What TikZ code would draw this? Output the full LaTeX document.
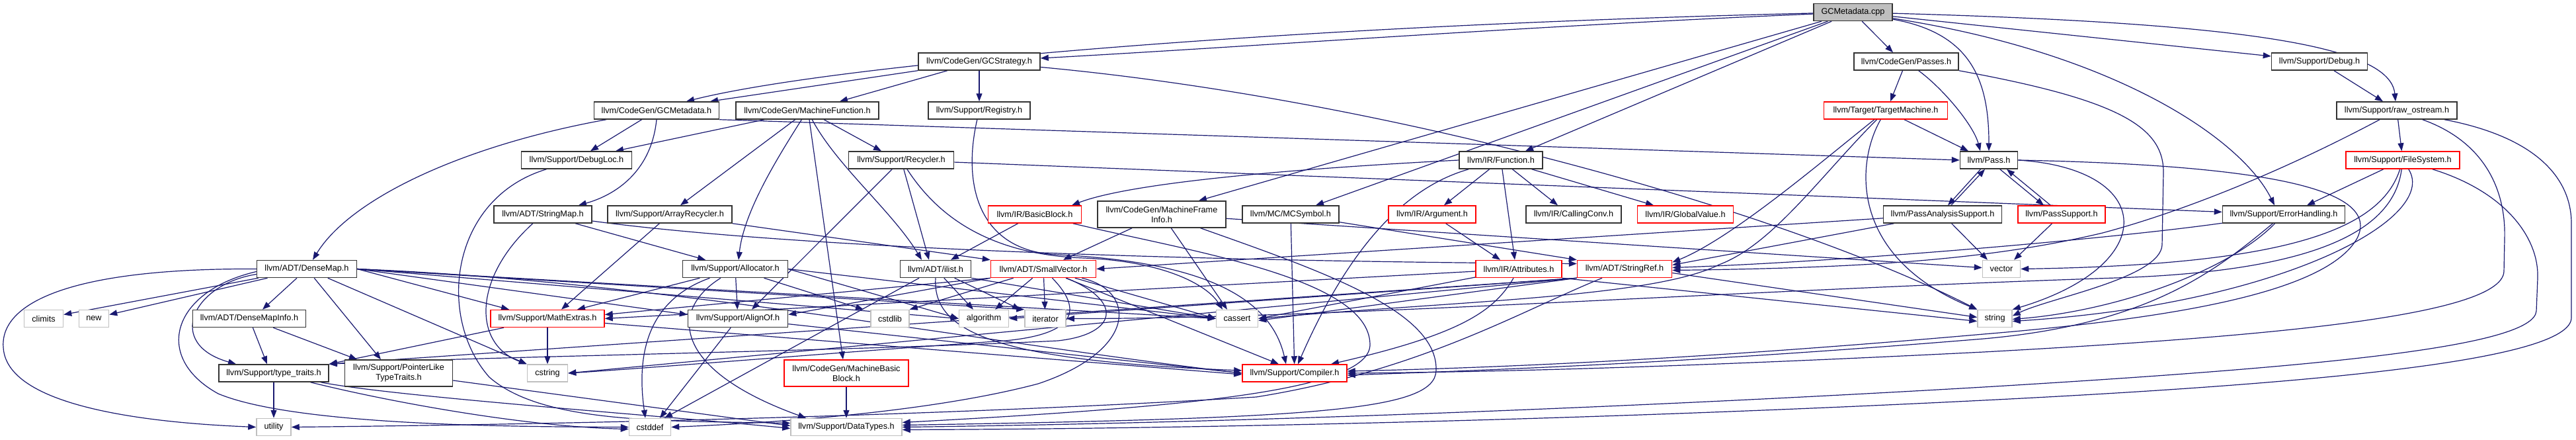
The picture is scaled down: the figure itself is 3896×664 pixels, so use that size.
\documentclass[tikz,border=0pt]{standalone}
\usepackage{fontspec}
\setmainfont{Liberation Sans}
\usetikzlibrary{arrows.meta}
\pgfdeclarelayer{bgl}
\pgfdeclarelayer{edl}
\pgfsetlayers{bgl,edl,main}
\definecolor{edgec}{HTML}{191970}
\definecolor{greyc}{HTML}{BFBFBF}
\newcommand{\dgfont}{\fontsize{12.7pt}{15pt}\selectfont}
\begin{document}
\begin{tikzpicture}[x=1pt,y=-1pt,
 nb/.style={rectangle, inner sep=0pt, minimum height=26pt, line width=1.5pt, font=\dgfont, align=center, fill=white, text=black},
 blk/.style={nb, draw=black!80},
 rd/.style={nb, draw=red},
 gr/.style={nb, draw=greyc},
 root/.style={nb, draw=black!80, fill=greyc},
 two/.style={minimum height=40pt},
 edg/.style={draw=edgec, line width=1.2pt, -{Triangle[length=12pt,width=9pt]}},
]
\useasboundingbox (0,0) rectangle (3896,664);
\begin{pgfonlayer}{bgl}
\fill[white] (0,0) rectangle (3896,664);
\end{pgfonlayer}
% row 0
\node[root, minimum width=119pt] (cpp) at (2802.5,18.5) {GCMetadata.cpp};
% row 1
\node[blk, minimum width=184pt] (gcs) at (1481,93) {llvm/CodeGen/GCStrategy.h};
\node[blk, minimum width=158pt] (passes) at (2883,93) {llvm/CodeGen/Passes.h};
\node[blk, minimum width=145pt] (debug) at (3508,93) {llvm/Support/Debug.h};
% row 2
\node[blk, minimum width=189pt] (gcmd) at (993,167) {llvm/CodeGen/GCMetadata.h};
\node[blk, minimum width=216pt] (mf) at (1221,167) {llvm/CodeGen/MachineFunction.h};
\node[blk, minimum width=154pt] (reg) at (1481,167) {llvm/Support/Registry.h};
\node[rd, minimum width=187pt] (tm) at (2852,167) {llvm/Target/TargetMachine.h};
\node[blk, minimum width=182pt] (raw) at (3625,167) {llvm/Support/raw\_ostream.h};
% row 3
\node[blk, minimum width=167pt] (dl) at (872,242) {llvm/Support/DebugLoc.h};
\node[blk, minimum width=159pt] (rec) at (1363,242) {llvm/Support/Recycler.h};
\node[blk, minimum width=126pt] (fn) at (2270,242) {llvm/IR/Function.h};
\node[blk, minimum width=87pt] (pass) at (3008,242) {llvm/Pass.h};
\node[rd, minimum width=172pt] (fs) at (3634,242) {llvm/Support/FileSystem.h};
% row 4
\node[blk, minimum width=148pt] (sm) at (821,324) {llvm/ADT/StringMap.h};
\node[blk, minimum width=188pt] (ar) at (1013,324) {llvm/Support/ArrayRecycler.h};
\node[rd, minimum width=141pt] (bb) at (1565,324) {llvm/IR/BasicBlock.h};
\node[blk, two, minimum width=194pt] (mfi) at (1757,324) {llvm/CodeGen/MachineFrame\\Info.h};
\node[blk, minimum width=146pt] (mcs) at (1952,324) {llvm/MC/MCSymbol.h};
\node[rd, minimum width=132pt] (arg) at (2166,324) {llvm/IR/Argument.h};
\node[blk, minimum width=144pt] (cc) at (2380,324) {llvm/IR/CallingConv.h};
\node[rd, minimum width=145pt] (gv) at (2549,324) {llvm/IR/GlobalValue.h};
\node[blk, minimum width=179pt] (pas) at (2938,324) {llvm/PassAnalysisSupport.h};
\node[rd, minimum width=132pt] (ps) at (3118,324) {llvm/PassSupport.h};
\node[blk, minimum width=185pt] (eh) at (3454,324) {llvm/Support/ErrorHandling.h};
% row 5
\node[blk, minimum width=151pt] (dm) at (464,406.5) {llvm/ADT/DenseMap.h};
\node[blk, minimum width=159pt] (alloc) at (1112,406.5) {llvm/Support/Allocator.h};
\node[blk, minimum width=107pt] (il) at (1415,406.5) {llvm/ADT/ilist.h};
\node[rd, minimum width=159pt] (sv) at (1578,406.5) {llvm/ADT/SmallVector.h};
\node[rd, minimum width=130pt] (attr) at (2297,406.5) {llvm/IR/Attributes.h};
\node[rd, minimum width=143pt] (sr) at (2457,406.5) {llvm/ADT/StringRef.h};
\node[gr, minimum width=57pt] (vector) at (3027,406.5) {vector};
% row 6
\node[gr, minimum width=59pt] (climits) at (66,481.5) {climits};
\node[gr, minimum width=45pt] (new) at (142,481.5) {new};
\node[blk, minimum width=171pt] (dmi) at (377,481.5) {llvm/ADT/DenseMapInfo.h};
\node[rd, minimum width=172pt] (me) at (828,481.5) {llvm/Support/MathExtras.h};
\node[blk, minimum width=151pt] (ao) at (1116,481.5) {llvm/Support/AlignOf.h};
\node[gr, minimum width=58pt] (cstdlib) at (1346,481.5) {cstdlib};
\node[gr, minimum width=75pt] (algorithm) at (1488,481.5) {algorithm};
\node[gr, minimum width=62pt] (iterator) at (1581,481.5) {iterator};
\node[gr, minimum width=63pt] (cassert) at (1871,481.5) {cassert};
\node[gr, minimum width=52pt] (string) at (3017,481.5) {string};
% row 7
\node[blk, minimum width=166pt] (tt) at (414,564) {llvm/Support/type\_traits.h};
\node[blk, two, minimum width=163pt] (pltt) at (603,564) {llvm/Support/PointerLike\\TypeTraits.h};
\node[gr, minimum width=61pt] (cstring) at (828,564) {cstring};
\node[rd, two, minimum width=188pt] (mbb) at (1280,564) {llvm/CodeGen/MachineBasic\\Block.h};
\node[rd, minimum width=158pt] (comp) at (1958,564) {llvm/Support/Compiler.h};
% row 8
\node[gr, minimum width=52pt] (utility) at (414,645.5) {utility};
\node[gr, minimum width=63pt] (cstddef) at (983,645.5) {cstddef};
\node[gr, minimum width=168pt] (dt) at (1280,645.5) {llvm/Support/DataTypes.h};

\begin{pgfonlayer}{edl}
% GCMetadata.cpp
\draw[edg] (cpp) .. controls (1900,40) and (1250,100) .. ([xshift=45pt]gcmd.north);
\draw[edg] (cpp) .. controls (2300,40) and (1900,70) .. ([yshift=5pt]gcs.east);
\draw[edg] (cpp) -- ([xshift=56pt]mfi.north);
\draw[edg] (cpp) -- ([xshift=38pt]mcs.north);
\draw[edg] (cpp) -- ([xshift=37pt]fn.north);
\draw[edg] (cpp) -- ([xshift=-20pt]passes.north);
\draw[edg] (cpp) .. controls (2980,50) and (3008,120) .. (pass.north);
\draw[edg] (cpp) -- ([yshift=8pt]debug.west);
\draw[edg] (cpp) .. controls (3400,35) and (3615,70) .. ([xshift=-2pt]raw.north);
\draw[edg] (cpp) .. controls (3200,80) and (3390,210) .. ([xshift=-14pt]eh.north);
% GCStrategy
\draw[edg] (gcs) -- ([xshift=81pt]gcmd.north);
\draw[edg] (gcs) -- ([xshift=49pt]mf.north);
\draw[edg] (gcs) -- (reg);
\draw[edg] (gcs) .. controls (2100,150) and (2700,320) .. (string.north west);
% GCMetadata.h
\draw[edg] (gcmd) .. controls (700,220) and (530,300) .. ([xshift=9pt]dm.north);
\draw[edg] (gcmd) -- ([xshift=21pt]dl.north);
\draw[edg] (gcmd.south) .. controls (985,260) and (930,295) .. ([xshift=54pt]sm.north);
\draw[edg] (gcmd.south east) -- (pass.west);
% MachineFunction
\draw[edg] (mf) -- ([xshift=59pt]dl.north);
\draw[edg] (mf) -- ([xshift=16pt]ar.north);
\draw[edg] (mf) .. controls (1175,240) and (1125,320) .. ([xshift=5pt]alloc.north);
\draw[edg] ([xshift=3pt]mf.south) -- ([xshift=-5pt]mbb.north);
\draw[edg] (mf) -- ([xshift=-30pt]rec.north);
\draw[edg] (mf) .. controls (1265,250) and (1350,320) .. ([xshift=-21pt]il.north);
% Registry
\draw[edg] (reg) .. controls (1455,280) and (1480,380) .. (1600,385) .. controls (1800,395) and (1920,440) .. ([xshift=-13pt]comp.north);
% Recycler
\draw[edg] (rec) -- ([xshift=21pt]ao.north);
\draw[edg] (rec) -- ([xshift=-10pt]il.north);
\draw[edg] (rec) .. controls (1420,330) and (1500,385) .. (1640,390) .. controls (1760,395) and (1825,430) .. ([xshift=-22pt]cassert.north);
\draw[edg] (rec) -- (eh);
% Function
\draw[edg] (fn.west) .. controls (1900,258) and (1700,280) .. ([xshift=56pt]bb.north);
\draw[edg] (fn) .. controls (2100,290) and (2020,420) .. ([xshift=5pt]comp.north);
\draw[edg] (fn) -- ([xshift=18pt]arg.north);
\draw[edg] (fn) -- ([xshift=-6pt]attr.north);
\draw[edg] (fn) -- ([xshift=-24pt]cc.north);
\draw[edg] (fn) -- ([xshift=-48pt]gv.north);
\draw[edg] (arg) -- ([xshift=-28pt]attr.north);
% MCSymbol
\draw[edg] (mcs) -- (comp);
\draw[edg] (mcs) -- (sr.north west);
% MachineFrameInfo
\draw[edg] (mfi) -- ([xshift=30pt]sv.north);
\draw[edg] (mfi) -- ([xshift=-15pt]cassert.north);
\draw[edg] (mfi) .. controls (2000,410) and (2175,470) .. (2172,560) .. controls (2170,620) and (2000,632) .. ([yshift=3pt]dt.east);
\draw[edg] (mfi) -- (vector);
% BasicBlock
\draw[edg] (bb) -- ([xshift=23pt]il.north);
\draw[edg] (bb) .. controls (1800,380) and (2070,420) .. (2072,520) .. controls (2074,590) and (1800,615) .. ([yshift=7pt]dt.east);
% StringMap
\draw[edg] (sm) .. controls (715,420) and (715,520) .. (cstring.north west);
\draw[edg] (sm) -- ([xshift=-45pt]alloc.north);
\draw[edg] (sm) .. controls (1200,375) and (1800,395) .. ([yshift=8pt]sr.west);
% ArrayRecycler
\draw[edg] (ar) -- ([xshift=21pt]me.north);
\draw[edg] (ar.south east) -- (sv.north west);
% DebugLoc
\draw[edg] (dl) .. controls (680,300) and (660,480) .. (740,570) .. controls (820,640) and (1000,636) .. ([yshift=6pt]dt.west);
% Allocator
\draw[edg] (alloc) -- ([xshift=45pt]me.north);
\draw[edg] (alloc) .. controls (990,450) and (960,520) .. ([xshift=-7pt]cstddef.north);
\draw[edg] (alloc) .. controls (1010,470) and (1020,560) .. ([xshift=-61pt]dt.north);
\draw[edg] (alloc) -- (ao);
\draw[edg] (alloc) -- ([xshift=-40pt]cstdlib.north);
\draw[edg] (alloc.east) -- (algorithm.west);
\draw[edg] (alloc.east) -- (cassert.west);
% ilist
\draw[edg] (il) -- ([xshift=22pt]cstddef.north);
\draw[edg] (il.south) .. controls (1410,500) and (1500,545) .. ([yshift=4pt]comp.west);
\draw[edg] (il) -- ([xshift=-16pt]algorithm.north);
\draw[edg] (il) -- ([xshift=-38pt]iterator.north);
\draw[edg] (il.south east) -- (cassert.west);
% SmallVector
\draw[edg] (sv) -- (cstdlib.north east);
\draw[edg] (sv) -- ([xshift=17pt]algorithm.north);
\draw[edg] (sv) -- (iterator);
\draw[edg] (sv) -- (cassert.west);
\draw[edg] (sv) -- ([xshift=-24pt]comp.north);
\draw[edg] (sv) .. controls (1640,470) and (1625,505) .. (1520,515) .. controls (1300,530) and (1000,555) .. (cstring.east);
\draw[edg] (sv) .. controls (1700,455) and (1690,505) .. (1600,515) .. controls (1300,530) and (700,540) .. (tt.north east);
\draw[edg] (sv) .. controls (1720,440) and (1720,530) .. (1570,580) .. controls (1400,625) and (1150,640) .. (cstddef.east);
\draw[edg] (sv.south west) -- ([yshift=6pt]ao.east);
\draw[edg] (sv.south west) -- ([yshift=6pt]me.east);
% DenseMap
\draw[edg] (dm) -- ([xshift=20pt]dmi.north);
\draw[edg] (dm) -- ([yshift=6pt]climits.east);
\draw[edg] (dm) -- ([yshift=6pt]new.east);
\draw[edg] ([yshift=-8pt]dm.west) .. controls (290,430) and (250,520) .. ([xshift=-57pt]tt.north);
\draw[edg] (dm.west) .. controls (100,405) and (0,460) .. (5,525) .. controls (10,620) and (250,640) .. (utility.west);
\draw[edg] ([yshift=-4pt]dm.west) .. controls (260,440) and (230,540) .. (330,595) .. controls (450,645) and (800,645) .. (cstddef.west);
\draw[edg] (dm) -- ([xshift=-27pt]pltt.north);
\draw[edg] (dm.east) -- ([xshift=-58pt]me.north);
\draw[edg] (dm.east) -- ([yshift=6pt]ao.west);
\draw[edg] (dm) -- (cstring.north west);
\draw[edg] (dm.east) -- (algorithm.west);
\draw[edg] (dm.east) -- (cassert.west);
\draw[edg] (dm.east) -- (iterator.north west);
\draw[edg] (dm.east) .. controls (1000,425) and (1500,520) .. (comp.west);
% DenseMapInfo
\draw[edg] (dmi) -- ([xshift=-10pt]tt.north);
\draw[edg] (dmi) -- ([xshift=-63pt]pltt.north);
% type_traits
\draw[edg] (tt) -- (utility);
\draw[edg] (tt) .. controls (600,600) and (1000,628) .. ([yshift=-2pt]dt.west);
\draw[edg] (tt) .. controls (600,610) and (800,645) .. ([yshift=-3pt]cstddef.west);
% PointerLikeTypeTraits
\draw[edg] (pltt) -- ([yshift=2pt]dt.west);
% MathExtras
\draw[edg] (me) -- (cstring);
\draw[edg] (me) -- (tt.north east);
\draw[edg] (me) -- ([yshift=-2pt]comp.west);
% AlignOf
\draw[edg] (ao) -- ([xshift=15pt]cstddef.north);
\draw[edg] (ao) -- (comp.west);
% MachineBasicBlock
\draw[edg] (mbb) -- (dt);
% Pass
\draw[edg] (pass) -- ([xshift=8pt]pas.north);
\draw[edg] (pass) -- ([xshift=-27pt]ps.north);
\draw[edg] (pass.east) .. controls (3260,255) and (3270,400) .. (string.north east);
\draw[edg] (pass.east) .. controls (3450,250) and (3600,290) .. (3565,360) .. controls (3520,440) and (3300,480) .. (3000,505) .. controls (2600,540) and (2300,555) .. ([yshift=3pt]comp.east);
% PassAnalysisSupport
\draw[edg] (pas) -- ([xshift=-6pt]pass.south);
\draw[edg] (pas) -- ([xshift=-21pt]vector.north);
\draw[edg] (pas) -- (sv.east);
\draw[edg] (pas) -- ([yshift=6pt]sr.east);
% PassSupport
\draw[edg] (ps) -- ([xshift=27pt]pass.south);
\draw[edg] (ps) -- ([xshift=19pt]vector.north);
% TargetMachine
\draw[edg] (tm) -- ([xshift=-31pt]pass.north);
\draw[edg] (tm) .. controls (2805,250) and (2800,390) .. (string.north west);
\draw[edg] (tm) .. controls (2760,240) and (2620,360) .. ([yshift=10pt]sr.east);
\draw[edg] (tm) .. controls (2750,270) and (2680,370) .. (2600,400) .. controls (2500,450) and (2200,455) .. (cassert.east);
% Passes
\draw[edg] (passes) -- ([xshift=7pt]tm.north);
\draw[edg] (passes) .. controls (2940,135) and (2985,190) .. ([xshift=-13pt]pass.north);
\draw[edg] (passes.south east) .. controls (3200,150) and (3272,190) .. (3272,260) -- (3270,370) .. controls (3268,420) and (3100,450) .. ([yshift=4pt]string.east);
% Debug
\draw[edg] (debug) -- ([xshift=-21pt]raw.north);
% raw_ostream
\draw[edg] (raw) .. controls (3450,260) and (3300,320) .. (3180,352) .. controls (3000,395) and (2800,405) .. ([yshift=-2pt]sr.east);
\draw[edg] (raw) -- (fs);
\draw[edg] (raw) .. controls (3760,215) and (3790,290) .. (3788,360) -- (3787,410) .. controls (3785,480) and (3400,510) .. (3000,532) .. controls (2600,552) and (2300,562) .. (comp.east);
\draw[edg] (raw) .. controls (3850,210) and (3890,280) .. (3889,340) -- (3889,480) .. controls (3889,545) and (3500,580) .. (3000,605) .. controls (2400,635) and (1800,648) .. ([yshift=-4pt]dt.east);
% FileSystem
\draw[edg] (fs) -- ([xshift=35pt]eh.north);
\draw[edg] (fs) .. controls (3600,350) and (3450,400) .. (vector.east);
\draw[edg] (fs) .. controls (3620,350) and (3500,410) .. (3200,420) .. controls (2600,440) and (2000,482) .. (iterator.east);
\draw[edg] (fs) .. controls (3690,330) and (3450,460) .. ([yshift=-4pt]string.east);
\draw[edg] (fs) .. controls (3790,290) and (3840,360) .. (3838,420) -- (3836,470) .. controls (3832,525) and (3500,555) .. (3000,585) .. controls (2400,620) and (1800,640) .. (dt.east);
% ErrorHandling
\draw[edg] (eh) .. controls (3200,360) and (2800,395) .. ([yshift=2pt]sr.east);
\draw[edg] (eh) .. controls (3350,410) and (3250,490) .. (3000,512) .. controls (2600,545) and (2300,558) .. ([yshift=-3pt]comp.east);
\draw[edg] (eh) .. controls (3370,410) and (3200,470) .. ([yshift=-1pt]string.east);
% Attributes
\draw[edg] (attr) -- (me.east);
\draw[edg] (attr) -- (cassert.east);
\draw[edg] (attr) .. controls (2260,470) and (2210,505) .. ([xshift=55pt]comp.north);
\draw[edg] (attr.south east) -- ([yshift=-4pt]string.west);
% StringRef
\draw[edg] (sr.south west) -- (tt.north east);
\draw[edg] (sr.south west) -- (algorithm.east);
\draw[edg] (sr.south west) -- ([yshift=-3pt]cassert.east);
\draw[edg] (sr.south west) -- (cstring.east);
\draw[edg] (sr) .. controls (2300,470) and (2150,560) .. (1900,600) .. controls (1400,630) and (800,642) .. (utility.east);
\draw[edg] ([yshift=-6pt]sr.east) -- ([yshift=2pt]string.west);
\end{pgfonlayer}
\end{tikzpicture}
\end{document}
